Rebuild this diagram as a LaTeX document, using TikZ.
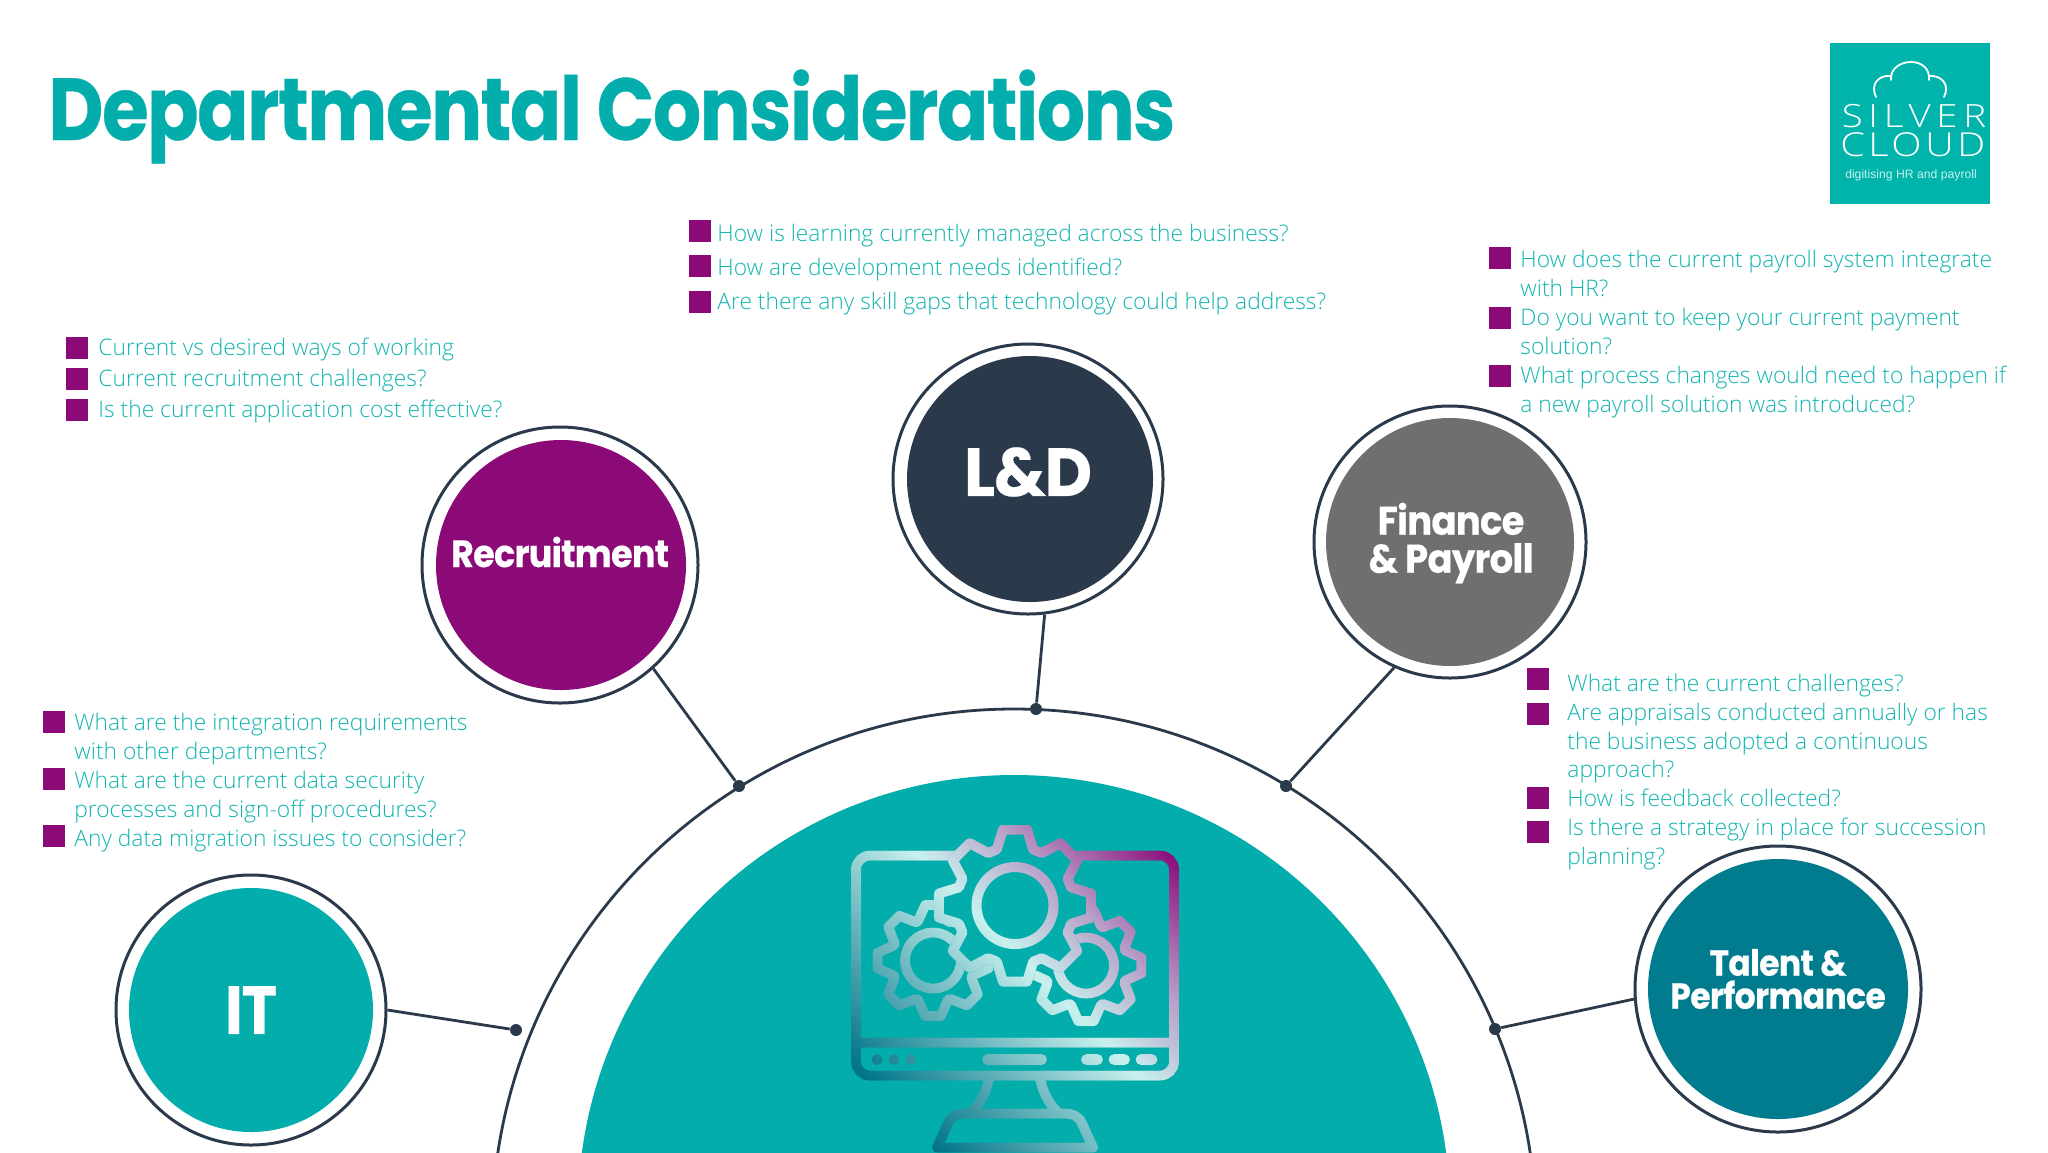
\documentclass[tikz,border=0pt]{standalone}
\usepackage{fontspec}
\usetikzlibrary{fadings}
\newfontfamily\titlefont[LetterSpace=-2,BoldFeatures={FakeBold=0.4}]{Poppins}
\newfontfamily\bodyfont{Open Sans Light}
\newfontfamily\logofont{Open Sans Light}
\definecolor{teal1}{HTML}{03ADAB}
\definecolor{logoteal}{HTML}{00B4AC}
\definecolor{plum}{HTML}{8B0A78}
\definecolor{navy}{HTML}{2B3A4B}
\definecolor{greyf}{HTML}{6F6F6F}
\definecolor{petrol}{HTML}{007C8E}
\definecolor{bodyteal}{HTML}{12B5B0}
\definecolor{mdark}{HTML}{007488}
\definecolor{mlight}{HTML}{C8F0EE}
\definecolor{mlilac}{HTML}{B8A0C8}
\definecolor{mpurple}{HTML}{8A0A7A}
\pgfdeclarehorizontalshading{monshade}{100bp}{color(0bp)=(mdark); color(24bp)=(mdark); color(54bp)=(mlight); color(66bp)=(mlilac); color(82bp)=(mpurple); color(100bp)=(mpurple)}
\newcommand{\gearpath}[6]{({#1+#4*cos(-#6)},{#2+#4*sin(-#6)}) \foreach \a in {0,45,...,315}{ -- ({#1+#4*cos(\a-#6)},{#2+#4*sin(\a-#6)}) -- ({#1+#3*cos(\a-#5)},{#2+#3*sin(\a-#5)}) -- ({#1+#3*cos(\a+#5)},{#2+#3*sin(\a+#5)}) -- ({#1+#4*cos(\a+#6)},{#2+#4*sin(\a+#6)}) } -- cycle}
\begin{tikzfadingfrompicture}[name=monfade,x=0.5pt,y=-0.5pt]
\path (851,825) rectangle (1179,1153);
\begin{scope}[line width=5pt,line join=round,line cap=round]
% monitor
\draw[white,rounded corners=7pt] (856,855) rectangle (1174,1075);
\draw[white] (856,1042) -- (1174,1042);
\fill[white] (877,1059) circle[radius=5.5];
\fill[white] (894,1059) circle[radius=5.5];
\fill[white] (911,1059) circle[radius=5.5];
\draw[white,line width=5.5pt] (987.5,1059) -- (1041.5,1059);
\draw[white,line width=5.5pt] (1086.5,1059) -- (1097.5,1059);
\draw[white,line width=5.5pt] (1114,1059) -- (1124.5,1059);
\draw[white,line width=5.5pt] (1141,1059) -- (1152,1059);
% stand
\draw[white] (989,1078) .. controls (986,1092) and (981,1102) .. (971,1112);
\draw[white] (1040,1078) .. controls (1043,1092) and (1048,1102) .. (1058,1112);
\draw[white] (937,1147) -- (948,1123) .. controls (951,1116) and (957,1113) .. (966,1113) -- (1064,1113) .. controls (1073,1113) and (1079,1116) .. (1082,1123) -- (1093,1147) -- cycle;
% small gears
\draw[white] \gearpath{933}{960}{56}{42}{8}{21};
\draw[white] (933,960) circle[radius=28];
\draw[white] \gearpath{1086}{965}{56}{42}{8}{21};
\draw[white] (1086,965) circle[radius=28];
% big gear on top
\filldraw[black,line width=5pt] \gearpath{1015}{905}{77}{59}{9}{18};
\draw[white] \gearpath{1015}{905}{77}{59}{9}{18};
\draw[white] (1015,905) circle[radius=38.5];
\end{scope}
\end{tikzfadingfrompicture}
\tikzset{
 bigtxt/.style={font=\bodyfont\fontsize{11.4pt}{14.35pt}\selectfont,text=bodyteal,anchor=north west,inner sep=0pt,align=left},
 sq/.style={fill=plum,draw=none,minimum width=11pt,minimum height=11pt,inner sep=0pt,anchor=center},
 ring/.style={circle,draw=navy,fill=white,line width=1.5pt,inner sep=0pt},
 disc/.style={circle,draw=none,inner sep=0pt},
 lab/.style={text=white,align=center,inner sep=0pt},
 conn/.style={draw=navy,line width=1.4pt},
 dot/.style={circle,fill=navy,inner sep=0pt,minimum size=6pt},
}
\newcommand{\bul}[6]{% name, sq x, sq y, text x, baseline y, text
 \node[sq] (#1s) at (#2,#3) {};
 \node[bigtxt] (#1t) at (#4,{#5-20.1}) {\strut #6};
}
\begin{document}
\begin{tikzpicture}[x=0.5pt,y=-0.5pt]
\useasboundingbox (0,0) rectangle (2048,1152);
\clip (0,0) rectangle (2048,1152);
\fill[white] (0,0) rectangle (2048,1152);
% title
\node[font=\titlefont\bfseries\fontsize{44pt}{46pt}\selectfont,text=teal1,anchor=base west,inner sep=0pt] (title) at (48,140) {\scalebox{0.861}[1]{Departmental Considerations}};
% logo
\node[fill=logoteal,minimum width=80pt,minimum height=80.5pt,inner sep=0pt,anchor=north west] (logo) at (1830,43) {};
\node[font=\logofont\fontsize{16pt}{16pt}\selectfont,text=white,inner sep=0pt,anchor=base] (silver) at (1911,127) {\scalebox{1.2}[1]{\addfontfeature{LetterSpace=15}SILVER\hspace{-2.5pt}}};
\node[font=\logofont\fontsize{16.5pt}{16pt}\selectfont,text=white,inner sep=0pt,anchor=base] (cloud) at (1911,156) {\scalebox{1.2}[1]{\addfontfeature{LetterSpace=9}CLOUD\hspace{-1.5pt}}};
\node[font=\fontspec{Liberation Sans}\fontsize{6.1pt}{7pt}\selectfont,text=mlight,inner sep=0pt,anchor=base] (tag) at (1911,178) {digitising HR and payroll};
\draw[white,line width=0.9pt,line cap=round] (1876,97) .. controls (1870,85) and (1878,75) .. (1890,76);
\draw[white,line width=0.9pt,line cap=round] (1891,80) .. controls (1890,68) and (1901,62) .. (1911,62) .. controls (1921,62) and (1930,68) .. (1929,80);
\draw[white,line width=0.9pt,line cap=round] (1929,76) .. controls (1942,75) and (1950,85) .. (1944,97);
% central shapes
\fill[teal1] (1014,1211) circle[radius=436];
\draw[navy,line width=1.4pt] (1014,1231) circle[radius=522];
\path[shading=monshade,shading angle=45,path fading=monfade,fit fading=false,fading transform={xshift=507.5pt,yshift=-494.5pt}] (851,825) rectangle (1179,1153);
% dots
\node[dot] (d1) at (516,1030) {};
\node[dot] (d2) at (739,786) {};
\node[dot] (d3) at (1036,709) {};
\node[dot] (d4) at (1286,786) {};
\node[dot] (d5) at (1495,1029) {};
% circles
\node[ring,minimum size=135pt] (it) at (251,1010) {};
\node[disc,fill=teal1,minimum size=122pt] (itd) at (251,1010) {};
\node[lab,font=\titlefont\bfseries\fontsize{34pt}{34pt}\selectfont] (itt) at (251,1010) {\scalebox{0.88}[1]{IT}};
\node[ring,minimum size=138pt] (rec) at (560,565) {};
\node[disc,fill=plum,minimum size=125pt] (recd) at (561,565) {};
\node[lab,font=\titlefont\bfseries\fontsize{19pt}{19pt}\selectfont] (rect) at (560,552) {\scalebox{0.92}[1]{Recruitment}};
\node[ring,minimum size=135pt] (ld) at (1028,479) {};
\node[disc,fill=navy,minimum size=123pt] (ldd) at (1030,479) {};
\node[lab,font=\titlefont\bfseries\fontsize{34pt}{34pt}\selectfont] (ldt) at (1028,472) {\scalebox{0.96}[1]{L\&D}};
\node[ring,minimum size=136pt] (fin) at (1450,542) {};
\node[disc,fill=greyf,minimum size=124pt] (find) at (1450,542) {};
\node[lab,font=\titlefont\bfseries\fontsize{20pt}{19pt}\selectfont] (fint) at (1451,543) {\scalebox{0.925}[1]{Finance}\\\scalebox{0.925}[1]{\& Payroll}};
\node[ring,minimum size=143pt] (tal) at (1778,989) {};
\node[disc,fill=petrol,minimum size=130pt] (tald) at (1778,989) {};
\node[lab,font=\titlefont\bfseries\fontsize{18pt}{16.5pt}\selectfont] (talt) at (1778,979) {\scalebox{0.917}[1]{Talent \&}\\\scalebox{0.917}[1]{Performance}};
% connectors
\draw[conn] (it.-0.5) -- (d1);
\draw[conn] (rec.-48.4) -- (d2);
\draw[conn] (ld.-83.4) -- (d3);
\draw[conn] (fin.-114.4) -- (d4);
\draw[conn] (tal.184.7) -- (d5);
% Recruitment
\bul{ra}{76.5}{348}{98}{355}{Current vs desired ways of working}
\bul{rb}{76.5}{379}{98}{386}{Current recruitment challenges?}
\bul{rc}{76.5}{410}{98}{417}{Is the current application cost effective?}
% L&D
\bul{la}{699.5}{231}{717}{241}{How is learning currently managed across the business?}
\bul{lb}{699.5}{266}{717}{275}{How are development needs identified?}
\bul{lc}{699.5}{302}{717}{309}{Are there any skill gaps that technology could help address?}
% Finance
\bul{fa}{1500}{258}{1520}{267}{How does the current payroll system integrate\\with HR?}
\bul{fb}{1500}{318}{1520}{325}{Do you want to keep your current payment\\solution?}
\bul{fc}{1500}{376}{1520}{383}{What process changes would need to happen if\\a new payroll solution was introduced?}
% Talent
\bul{ta}{1538}{679}{1567}{691}{What are the current challenges?}
\bul{tb}{1538}{714}{1567}{720}{Are appraisals conducted annually or has\\the business adopted a continuous\\approach?}
\bul{tc}{1538}{798}{1567}{806}{How is feedback collected?}
\bul{td}{1538}{832}{1567}{835}{Is there a strategy in place for succession\\planning?}
% IT
\bul{ia}{54}{722}{74}{730}{What are the integration requirements\\with other departments?}
\bul{ib}{54}{779}{74}{788}{What are the current data security\\processes and sign-off procedures?}
\bul{ic}{54}{836}{74}{846}{Any data migration issues to consider?}
\end{tikzpicture}
\end{document}
